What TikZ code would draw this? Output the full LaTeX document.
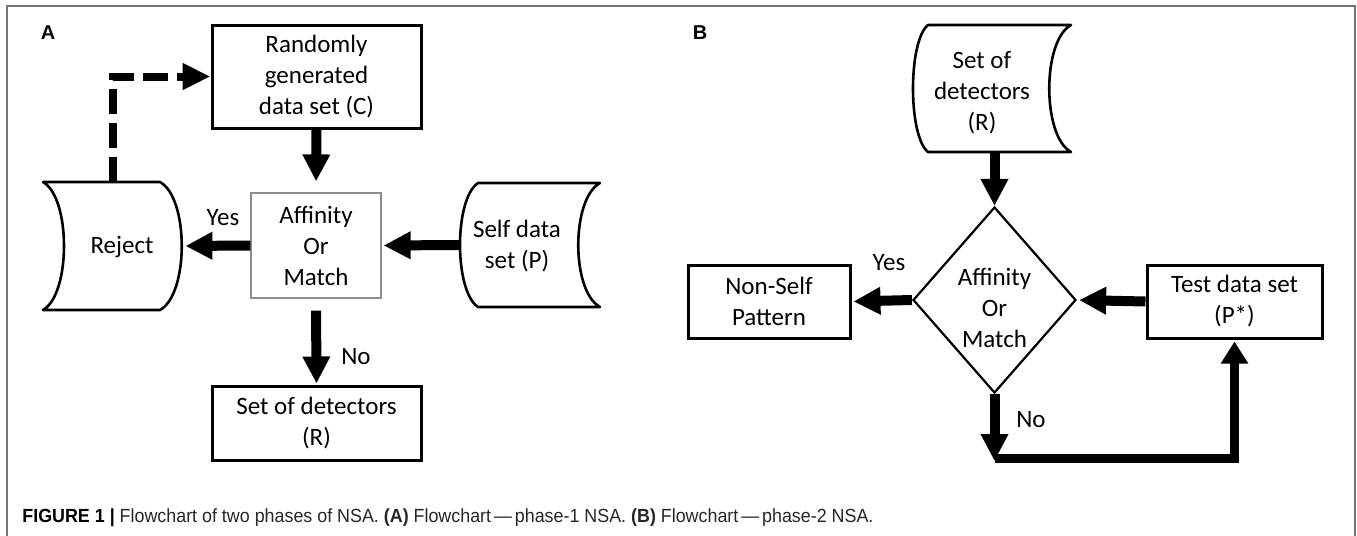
\documentclass[tikz,border=0pt]{standalone}
\usepackage{fontspec}
\usepackage{graphicx}
\newfontfamily\diagfont{Carlito}
\newfontfamily\capfont{Liberation Sans}
\usetikzlibrary{arrows.meta,shapes.geometric}

\begin{document}
\begin{tikzpicture}[x=0.5pt,y=-0.5pt,
  txt/.style={font=\diagfont\fontsize{12.5}{15.5}\selectfont, align=center, inner sep=0pt},
  procbox/.style={txt, draw, line width=1.5pt},
  thinbox/.style={txt, draw=black!45, line width=0.6pt},
  holder/.style={inner sep=0pt},
  store/.style={line width=1.3pt, line join=round},
  flow/.style={line width=5pt, -{Triangle[length=13.5pt,width=13pt]}},
  loopline/.style={line width=4.5pt, -{Triangle[length=11pt,width=13pt]}},
  retry/.style={line width=4pt, dash pattern=on 12.5pt off 4.5pt,
                -{Triangle[length=14pt,width=12.5pt]}},
  panel/.style={font=\capfont\bfseries\fontsize{10}{12}\selectfont, inner sep=0pt}]

\useasboundingbox (0,0) rectangle (1357,536);

% open frame round both panels and the caption
\draw[black!55, line width=1pt] (7,536) -- (7,6) -- (1355,6) -- (1355,536);

% ---------------- panel A: generating the detectors ----------------
\node[panel] (labA) at (48,33) {A};

\node[procbox, minimum width=104.5pt, minimum height=51.5pt] (rnd) at (316.5,76.5)
  {Randomly\\generated\\data set (C)};
\node[thinbox, minimum width=65pt, minimum height=52.5pt] (aff) at (316,245.5)
  {Affinity\\Or\\Match};
\node[procbox, minimum width=104.5pt, minimum height=37pt] (sod) at (316.5,423)
  {Set of detectors\\(R)};

% stored data, mirrored (concave left, convex right)
\node[holder, minimum width=69.5pt, minimum height=64pt] (rej) at (112.5,246) {};
\draw[store] (43,182) -- (160,182) .. controls (189,198) and (189,294) .. (160,310)
  -- (43,310) .. controls (71,294) and (71,198) .. (43,182) -- cycle;
\node[txt] (rejtxt) at (122,247) {Reject};

% stored data (convex left, concave right)
\node[holder, minimum width=70pt, minimum height=62pt] (self) at (530,245) {};
\draw[store] (478,183) -- (600,183) .. controls (571,199) and (571,291) .. (600,307)
  -- (478,307) .. controls (454,291) and (454,199) .. (478,183) -- cycle;
\node[txt] (selftxt) at (517,246) {Self data\\set (P)};

\draw[flow, shorten >=5.5pt] (rnd.south) -- (aff.north);
\draw[flow, shorten >=1.5pt] (aff.west) -- (rej.east);
\draw[flow, shorten >=1pt] (self.west) -- (aff.east);
\draw[flow, shorten <=6pt, shorten >=0.5pt] (aff.south) -- (sod.north);
\draw[retry] (rej.north) |- (rnd.west);

\node[txt] (yesA) at (223,218) {Yes};
\node[txt] (noA) at (356,357) {No};

% ---------------- panel B: monitoring with the detectors ----------------
\node[panel] (labB) at (700,33) {B};

\node[holder, minimum width=79pt, minimum height=63.5pt] (sdB) at (992,88.5) {};
\draw[store] (928,25) -- (1071,25) .. controls (1042,41) and (1042,136) .. (1071,152)
  -- (928,152) .. controls (908,136) and (908,41) .. (928,25) -- cycle;
\node[txt] (sdBtxt) at (982,93) {Set of\\detectors\\(R)};

\node[diamond, draw, line width=1.1pt, inner sep=0pt,
      minimum width=81.5pt, minimum height=93pt] (dia) at (994.5,300) {};
\node[txt] (diatxt) at (994.5,308) {Affinity\\Or\\Match};

\node[procbox, minimum width=81pt, minimum height=36.5pt] (nsp) at (769,301.5)
  {Non-Self\\Pattern};
\node[procbox, minimum width=87.5pt, minimum height=36.5pt] (tst) at (1234.5,301.5)
  {Test data set\\(P*)};

\coordinate (nob) at (994.5,461);
\coordinate (turn) at (994.5,458);

\draw[flow] (dia.north |- sdB.south) -- (dia.north);
\draw[flow, shorten >=1pt] (dia.west) -- (nsp.east);
\draw[flow, shorten >=1pt] (tst.west) -- (dia.east);
\draw[flow] (dia.south) -- (nob);
\draw[loopline, shorten >=1pt] (turn) -| (tst.south);

\node[txt] (yesB) at (889,263) {Yes};
\node[txt] (noB) at (1031,420) {No};

% ---------------- caption ----------------
\node[anchor=base west, inner sep=0pt] (cap) at (22,522)
  {\resizebox{425.5pt}{\height}{\capfont\fontsize{9.5}{11}\selectfont\color{black!85}%
   \textbf{\color{black}FIGURE 1 |} Flowchart of two phases of NSA. \textbf{(A)} Flowchart\,—\,phase-1 NSA.
   \textbf{(B)} Flowchart\,—\,phase-2 NSA.}};
\end{tikzpicture}
\end{document}
